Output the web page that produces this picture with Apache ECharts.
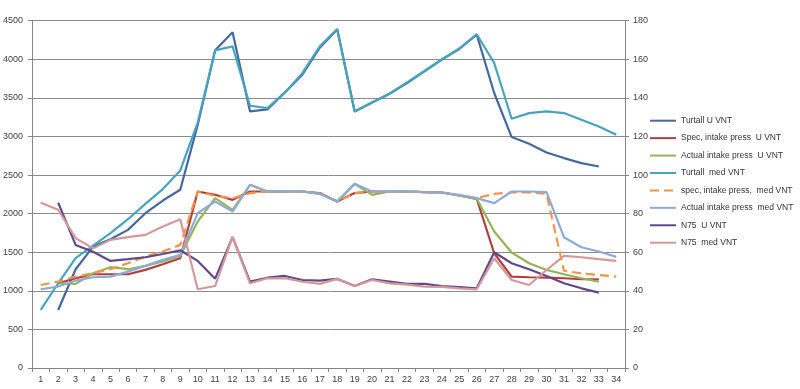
<!DOCTYPE html>
<html>
<head>
<meta charset="utf-8">
<script src="https://cdn.jsdelivr.net/npm/echarts@6/dist/echarts.min.js"></script>
<style>
html,body{margin:0;padding:0;background:#fff;}
#c{width:800px;height:389px;}
</style>
</head>
<body>
<div id="c"></div>
<script>
var categories = ['1','2','3','4','5','6','7','8','9','10','11','12','13','14','15','16','17','18','19','20','21','22','23','24','25','26','27','28','29','30','31','32','33','34'];
var leftTicks = [0, 4500, 500];
var rightTicks = [0, 180, 20];

var turtallU = [null, 752, 1280, 1573, 1669, 1790, 2006, 2170, 2309, 3150, 4116, 4349, 3324, 3350, 3571, 3800, 4150, 4385, 3324, 3441, 3554, 3692, 3843, 3995, 4133, 4319, 3563, 2992, 2905, 2793, 2720, 2655, 2611, null];
var specU = [null, 1098, 1163, 1215, 1215, 1215, 1271, 1345, 1423, 2287, 2244, 2179, 2287, 2287, 2287, 2287, 2266, 2157, 2266, 2287, 2287, 2287, 2280, 2274, 2235, 2192, 1487, 1184, 1176, 1172, 1163, 1150, 1150, null];
var actualU = [null, 1098, 1090, 1228, 1306, 1280, 1323, 1380, 1453, 1898, 2201, 2049, 2374, 2287, 2287, 2287, 2257, 2157, 2386, 2244, 2287, 2287, 2280, 2274, 2235, 2192, 1768, 1496, 1358, 1271, 1215, 1163, 1120, null];
var turtallMed = [752, 1098, 1423, 1586, 1747, 1928, 2127, 2318, 2560, 3180, 4116, 4168, 3398, 3368, 3571, 3820, 4168, 4393, 3324, 3441, 3554, 3700, 3850, 4000, 4140, 4325, 3952, 3229, 3303, 3324, 3303, 3216, 3130, 3022];
var specMed = [1076, 1120, 1184, 1230, 1280, 1358, 1444, 1509, 1595, 2287, 2230, 2200, 2266, 2287, 2287, 2287, 2257, 2157, 2266, 2287, 2287, 2287, 2280, 2274, 2235, 2201, 2257, 2274, 2274, 2257, 1260, 1225, 1205, 1184];
var actualMed = [1020, 1055, 1133, 1176, 1184, 1249, 1323, 1401, 1466, 2006, 2157, 2027, 2374, 2287, 2287, 2287, 2257, 2157, 2386, 2287, 2287, 2287, 2280, 2274, 2244, 2201, 2136, 2287, 2287, 2280, 1695, 1565, 1509, 1440];
var n75U = [null, 85.7, 63.8, 60.3, 55.5, 56.4, 57.4, 59.1, 61, 55.5, 46.3, 67.8, 44.8, 46.8, 47.7, 45.6, 45.3, 46.2, 42.5, 46, 44.8, 43.6, 43.6, 42.5, 41.9, 41.3, 60, 54.3, 51.2, 47.7, 43.9, 41.3, 39.1, null];
var n75Med = [85.7, 82, 67.3, 62, 66.4, 67.8, 69, 73.3, 77.1, 40.8, 42.5, 68, 43.9, 46.5, 46.5, 44.7, 43.6, 46.2, 42.5, 45.6, 43.9, 43.2, 42.2, 42, 41.3, 40.8, 56.9, 45.6, 43, 50.8, 58.1, 57.4, 56.4, 55.5];

var seriesNames = ['Turtall U VNT', 'Spec, intake press  U VNT', 'Actual intake press  U VNT', 'Turtall  med VNT', 'spec, intake press,  med VNT', 'Actual intake press  med VNT', 'N75  U VNT', 'N75  med VNT'];
var seriesData = [turtallU, specU, actualU, turtallMed, specMed, actualMed, n75U, n75Med];
var seriesColors = ['#46689E', '#B0403E', '#92B556', '#48A3BC', '#F0954A', '#8FAAD6', '#5E4A8A', '#D4989A'];
var seriesAxis = [0, 0, 0, 0, 0, 0, 1, 1];
var seriesDash = ['solid', 'solid', 'solid', 'solid', [9, 5], 'solid', 'solid', 'solid'];

var FONT = "'Liberation Sans', Arial, sans-serif";
var axisGray = '#868686';

var chart = echarts.init(document.getElementById('c'), null, {renderer: 'canvas'});
var series = seriesNames.map(function (n, i) {
  return {
    name: n,
    type: 'line',
    yAxisIndex: seriesAxis[i],
    data: seriesData[i],
    symbol: 'none',
    showSymbol: false,
    connectNulls: false,
    animation: false,
    lineStyle: {color: seriesColors[i], width: 2.2, type: seriesDash[i]},
    itemStyle: {color: seriesColors[i]}
  };
});

function plain(v) { return String(v); }

chart.setOption({
  animation: false,
  backgroundColor: '#ffffff',
  grid: {left: 32, right: 175, top: 20.7, bottom: 21, containLabel: false},
  legend: {
    orient: 'vertical',
    left: 649,
    top: 114.7,
    padding: 0,
    itemWidth: 26,
    itemHeight: 12,
    itemGap: 5.43,
    itemStyle: {opacity: 0},
    textStyle: {fontFamily: FONT, fontSize: 8.5, color: '#333333', lineHeight: 12},
    data: seriesNames
  },
  xAxis: {
    type: 'category',
    data: categories,
    boundaryGap: true,
    axisLine: {lineStyle: {color: axisGray, width: 1}},
    axisTick: {show: true, interval: 0, alignWithLabel: false, length: 4, lineStyle: {color: axisGray}},
    axisLabel: {interval: 0, fontFamily: FONT, fontSize: 9, color: '#404040', margin: 7},
    splitLine: {show: false}
  },
  yAxis: [
    {
      type: 'value',
      min: leftTicks[0], max: leftTicks[1], interval: leftTicks[2],
      axisLine: {show: true, lineStyle: {color: axisGray, width: 1}},
      axisTick: {show: true, length: 4, lineStyle: {color: axisGray}},
      axisLabel: {fontFamily: FONT, fontSize: 9, color: '#404040', margin: 9, formatter: plain},
      splitLine: {show: true, lineStyle: {color: '#8C8C8C', width: 1}}
    },
    {
      type: 'value',
      position: 'right',
      min: rightTicks[0], max: rightTicks[1], interval: rightTicks[2],
      axisLine: {show: true, lineStyle: {color: axisGray, width: 1}},
      axisTick: {show: true, length: 4, lineStyle: {color: axisGray}},
      axisLabel: {fontFamily: FONT, fontSize: 9, color: '#404040', margin: 8, formatter: plain},
      splitLine: {show: false}
    }
  ],
  series: series
});
</script>
</body>
</html>
